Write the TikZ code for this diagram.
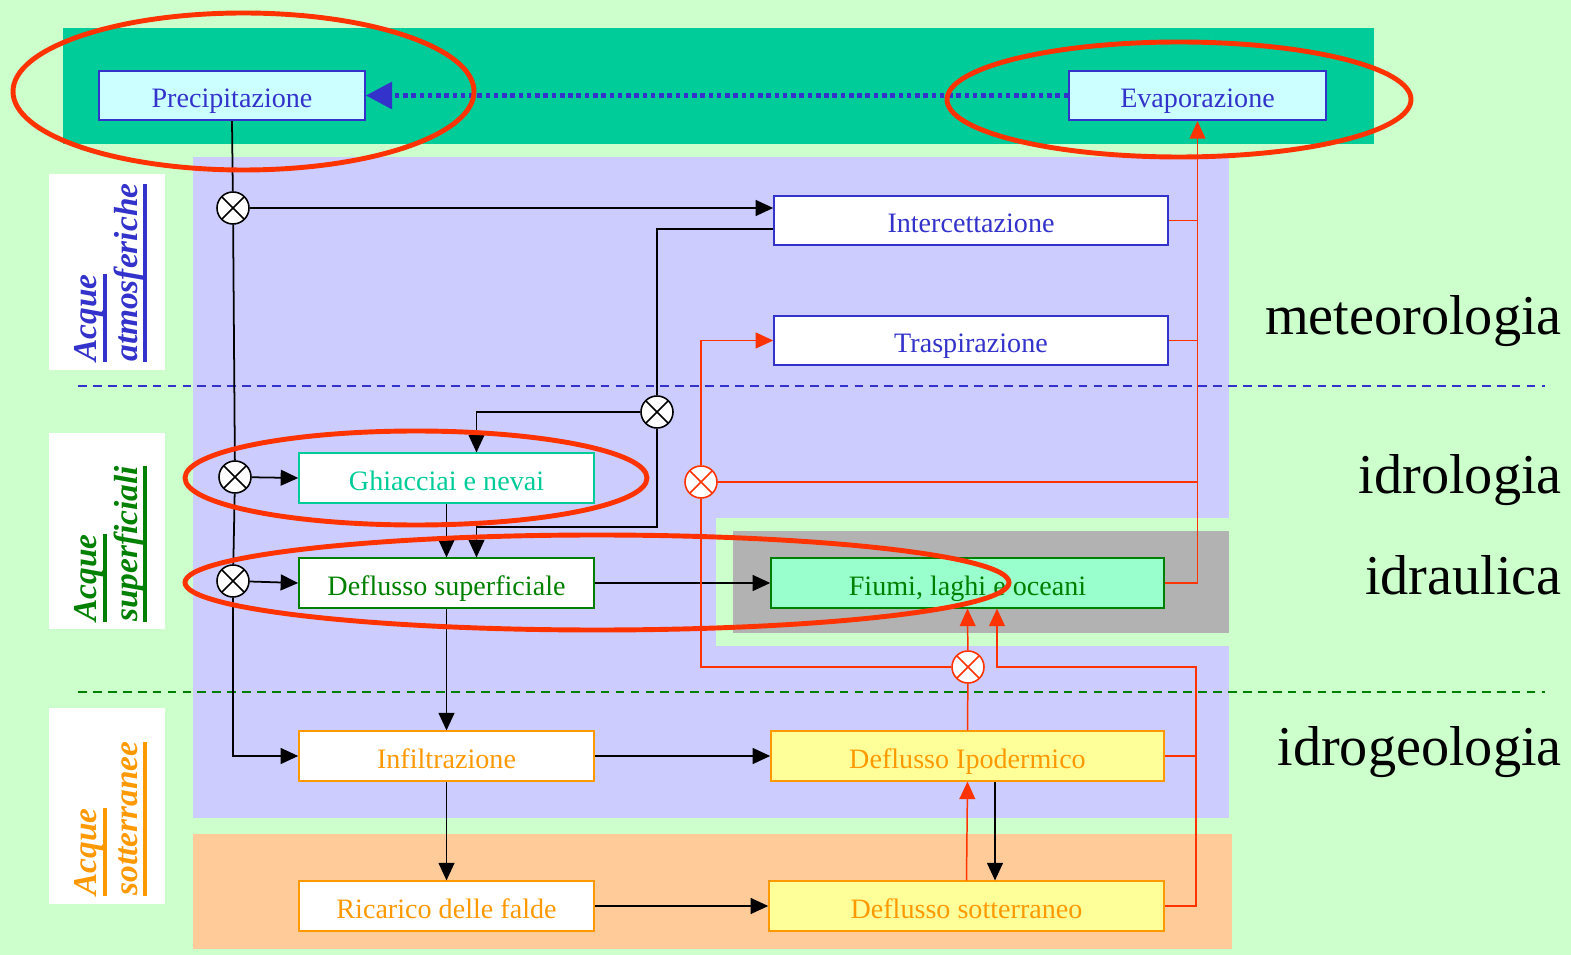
\documentclass[tikz,border=0pt]{standalone}
\usepackage{fontspec}
\setmainfont{Liberation Serif}
\usetikzlibrary{arrows.meta}

\definecolor{bggreen}{HTML}{CCFFCC}
\definecolor{bandteal}{HTML}{00CC99}
\definecolor{zonelilac}{HTML}{CCCCFF}
\definecolor{zoneorange}{HTML}{FFCC99}
\definecolor{zonegray}{HTML}{B2B2B2}
\definecolor{acqblue}{HTML}{3333CC}
\definecolor{acqteal}{HTML}{00CC99}
\definecolor{acqgreen}{HTML}{008000}
\definecolor{acqorange}{HTML}{FF9900}
\definecolor{flowred}{HTML}{FF3300}
\definecolor{skyfill}{HTML}{CCFFFF}
\definecolor{seafill}{HTML}{99FFCC}
\definecolor{soilfill}{HTML}{FFFF99}

\newcommand{\ulword}[1]{\setbox0=\hbox{#1}\rlap{\rule[-5.6pt]{\wd0}{2.2pt}}\box0}

\tikzstyle{stage} = [rectangle, draw, line width=0.9pt, minimum height=0.99cm, text centered, inner sep=2pt, text height=14pt, text depth=0pt, font=\fontsize{16}{19}\selectfont]
\tikzstyle{cloudstage} = [stage, draw=acqblue, text=acqblue, fill=skyfill]
\tikzstyle{airstage} = [stage, draw=acqblue, text=acqblue, fill=white]
\tikzstyle{icestage} = [stage, draw=acqteal, text=acqteal, fill=white]
\tikzstyle{surfstage} = [stage, draw=acqgreen, text=acqgreen, fill=white]
\tikzstyle{seastage} = [stage, draw=acqgreen, text=acqgreen, fill=seafill]
\tikzstyle{soilstage} = [stage, draw=acqorange, text=acqorange, fill=white]
\tikzstyle{deepstage} = [stage, draw=acqorange, text=acqorange, fill=soilfill]
\tikzstyle{junction} = [circle, draw, fill=white, line width=0.9pt, minimum size=0.64cm, inner sep=0pt, path picture={\draw[line width=0.9pt] (path picture bounding box.north west) -- (path picture bounding box.south east) (path picture bounding box.north east) -- (path picture bounding box.south west);}]
\tikzstyle{redjunction} = [junction, draw=flowred, path picture={\draw[flowred, line width=0.9pt] (path picture bounding box.north west) -- (path picture bounding box.south east) (path picture bounding box.north east) -- (path picture bounding box.south west);}]
\tikzstyle{flow} = [line width=1pt]
\tikzstyle{arrow} = [flow, -{Triangle[length=10pt,width=9pt]}]
\tikzstyle{redline} = [line width=0.85pt, flowred]
\tikzstyle{redarrow} = [redline, -{Triangle[length=10pt,width=9pt]}]
\tikzstyle{vapour} = [line width=3pt, acqblue, dash pattern=on 2.6pt off 2.1pt, -{Triangle[length=15pt,width=15pt]}]
\tikzstyle{sepline} = [line width=0.9pt, dash pattern=on 5pt off 3.5pt]
\tikzstyle{sidebox} = [rectangle, fill=white, inner sep=0pt, minimum width=2.32cm, minimum height=3.94cm]
\tikzstyle{sidetext} = [rotate=90, anchor=west, inner sep=0pt, align=left, font=\fontsize{19}{23}\selectfont\bfseries\itshape]
\tikzstyle{fieldlabel} = [anchor=base east, inner sep=0pt, font=\fontsize{32}{38}\selectfont]
\tikzstyle{hilite} = [line width=2.8pt, flowred]

\begin{document}
\begin{tikzpicture}[x=0.02cm, y=-0.02cm]
        \useasboundingbox (0,0) rectangle (1571,955);
        % zones
        \fill [bggreen] (0,0) rectangle (1571,955);
        \fill [bandteal] (63,28) rectangle (1374,144);
        \fill [zonelilac] (193,157) rectangle (1229,818);
        \fill [bggreen] (716,518) rectangle (1229,646);
        \fill [zonegray] (733,531) rectangle (1229,633);
        \fill [zoneorange] (193,834) rectangle (1232,949);
        \draw [sepline, acqblue] (78,386) -- (1545,386);
        \draw [sepline, acqgreen] (78,692) -- (1545,692);

        % labels
        \node (boxatm) [sidebox] at (107,272) {};
        \node (boxsurf) [sidebox] at (107,531) {};
        \node (boxgw) [sidebox] at (107,806) {};
        \node (lblatm) [sidetext, text=acqblue] at (111,362) {\ulword{Acque}\\\ulword{atmosferiche}};
        \node (lblsurf) [sidetext, text=acqgreen] at (111,622) {\ulword{Acque}\\\ulword{superficiali}};
        \node (lblgw) [sidetext, text=acqorange] at (111,896) {\ulword{Acque}\\\ulword{sotterranee}};
        \node (meteo) [fieldlabel] at (1562,335) {meteorologia};
        \node (idrol) [fieldlabel] at (1562,494) {idrologia};
        \node (idrau) [fieldlabel] at (1562,594) {idraulica};
        \node (idrog) [fieldlabel] at (1562,765) {idrogeologia};

        % stages
        \node (precip) [cloudstage, minimum width=5.32cm] at (232,95.5) {Precipitazione};
        \node (evap) [cloudstage, minimum width=5.14cm] at (1197.5,95.5) {Evaporazione};
        \node (intercett) [airstage, minimum width=7.88cm] at (971,220.5) {Intercettazione};
        \node (trasp) [airstage, minimum width=7.88cm] at (971,340.5) {Traspirazione};
        \node (ghiacci) [icestage, minimum width=5.9cm] at (446.5,478) {Ghiacciai e nevai};
        \node (defsup) [surfstage, minimum width=5.9cm] at (446.5,583) {Deflusso superficiale};
        \node (fiumi) [seastage, minimum width=7.86cm] at (967.5,583) {Fiumi, laghi e oceani};
        \node (infil) [soilstage, minimum width=5.9cm] at (446.5,756) {Infiltrazione};
        \node (ipoderm) [deepstage, minimum width=7.86cm] at (967.5,756) {Deflusso Ipodermico};
        \node (ricarico) [soilstage, minimum width=5.9cm] at (446.5,906) {Ricarico delle falde};
        \node (sotterr) [deepstage, minimum width=7.9cm] at (966.5,906) {Deflusso sotterraneo};

        \node (jint) [junction] at (233,208) {};
        \node (jrun) [junction] at (657,412) {};
        \node (jice) [junction] at (235,477) {};
        \node (jsurf) [junction] at (233,581) {};
        \node (jvap) [redjunction] at (701,482) {};
        \node (jsea) [redjunction] at (968,667) {};
        \coordinate (gwbus) at (1196,667);

        % precipitation
        \draw [flow] (precip.south) -- (jint);
        \draw [flow] (jint) -- (jice);
        \draw [flow] (jice) -- (jsurf);
        \draw [arrow] (jsurf) |- (infil.west);
        \draw [arrow] (jint) -- (jint -| intercett.west);
        \draw [arrow] (jice) -- (ghiacci.west);
        \draw [arrow] (jsurf) -- (defsup.west);
        \draw [flow] ([yshift=-0.17cm]intercett.west) -| (jrun);
        \draw [arrow] (jrun) -| ([xshift=0.6cm]ghiacci.north);
        \draw [arrow] (jrun) -- (657,527) -| ([xshift=0.6cm]defsup.north);

        % runoff
        \draw [arrow] (ghiacci) -- (defsup);
        \draw [arrow] (defsup.east) -- (fiumi.west);
        \draw [arrow] (defsup) -- (infil);
        \draw [arrow] (infil) -- (ricarico);
        \draw [arrow] (infil) -- (ipoderm);
        \draw [arrow] (ricarico) -- (sotterr);
        \draw [arrow] ([xshift=0.55cm]ipoderm.south) -- ([xshift=0.55cm]ipoderm.south |- sotterr.north);

        % return to the atmosphere
        \draw [vapour] (evap) -- (precip);
        \draw [redarrow] (fiumi.east) -| (evap.south);
        \draw [redline] (intercett.east) -- (intercett.east -| evap.south);
        \draw [redline] (trasp.east) -- (trasp.east -| evap.south);
        \draw [redline] (jvap) -- (jvap -| evap.south);
        \draw [redarrow] (jvap) |- (trasp.west);
        \draw [redline] (jvap) |- (jsea);
        \draw [redarrow] (jsea) -- (fiumi.south);
        \draw [redline] (ipoderm.north) -- (jsea);
        \draw [redarrow] (sotterr.north) -- (ipoderm.south);
        \draw [redline] (ipoderm.east) -- (ipoderm.east -| gwbus);
        \draw [redarrow] (sotterr.east) -| (gwbus) -| ([xshift=0.59cm]fiumi.south);

        % highlights
        \draw [hilite] (243.5,91.5) ellipse [x radius=230.5, y radius=78.5];
        \draw [hilite] (1179,99.5) ellipse [x radius=232, y radius=57.5];
        \draw [hilite] (416,478) ellipse [x radius=231, y radius=47];
        \draw [hilite] (597,582.5) ellipse [x radius=412, y radius=47.5];
\end{tikzpicture}
\end{document}
